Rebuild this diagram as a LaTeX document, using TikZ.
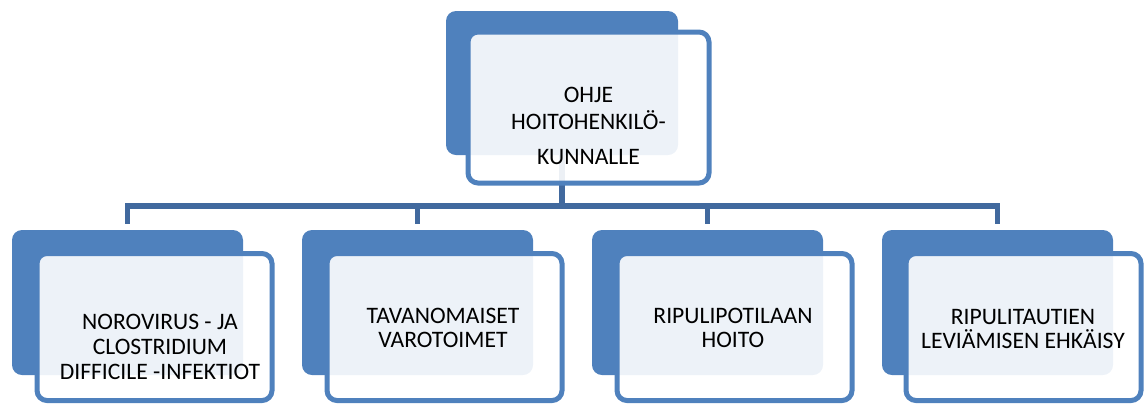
\documentclass[tikz,border=0pt]{standalone}
\usepackage{fontspec}
\setmainfont{Carlito}
\definecolor{accent}{HTML}{4F81BD}
\definecolor{linkblue}{HTML}{41699E}

\begin{document}
\begin{tikzpicture}[x=0.5pt,y=-0.5pt,
  backbox/.style={draw=none,fill=accent,rounded corners=5pt,minimum width=115.5pt,minimum height=72.5pt,inner sep=0pt},
  frontbox/.style={draw=accent,line width=2.5pt,fill=white,fill opacity=0.9,rounded corners=5pt,minimum width=117.5pt,minimum height=73.5pt,inner sep=0pt},
  boxtext/.style={align=center,font=\fontsize{11.8}{12.4}\selectfont,inner sep=0pt},
  link/.style={draw=linkblue,line width=2.75pt}]
\useasboundingbox (0,0) rectangle (1147,403);
% back boxes
\node[backbox,minimum width=116pt,minimum height=72pt] (tb) at (562,83) {};
\node[backbox] (b1) at (127.5,302.5) {};
\node[backbox] (b2) at (417.5,302.5) {};
\node[backbox] (b3) at (707.5,302.5) {};
\node[backbox] (b4) at (997.5,302.5) {};
% connectors
\coordinate (bus) at (562,206);
\draw[link] (tb.south) -- (bus);
\draw[link] ([yshift=3pt]b1.north) |- (bus) -| ([yshift=3pt]b4.north);
\draw[link] ([yshift=3pt]b2.north) -- (b2.north |- bus);
\draw[link] ([yshift=3pt]b3.north) -- (b3.north |- bus);
% front boxes
\node[frontbox,minimum width=120.5pt,minimum height=75.5pt] (tf) at (588.5,107.5) {};
\node[frontbox] (f1) at (154.5,327) {};
\node[frontbox] (f2) at (444.5,327) {};
\node[frontbox] (f3) at (734.5,327) {};
\node[frontbox] (f4) at (1023.5,327) {};
% labels
\node[boxtext,font=\fontsize{11.8}{13.5}\selectfont] (tt) at (588.5,126) {OHJE\\HOITOHENKILÖ-\\[4pt]KUNNALLE};
\node[boxtext] (t1) at (160,347) {NOROVIRUS - JA\\CLOSTRIDIUM\\DIFFICILE -INFEKTIOT};
\node[boxtext] (t2) at (443,328) {TAVANOMAISET\\VAROTOIMET};
\node[boxtext] (t3) at (733,328) {RIPULIPOTILAAN\\HOITO};
\node[boxtext] (t4) at (1023,329) {RIPULITAUTIEN\\LEVIÄMISEN EHKÄISY};
\end{tikzpicture}
\end{document}
